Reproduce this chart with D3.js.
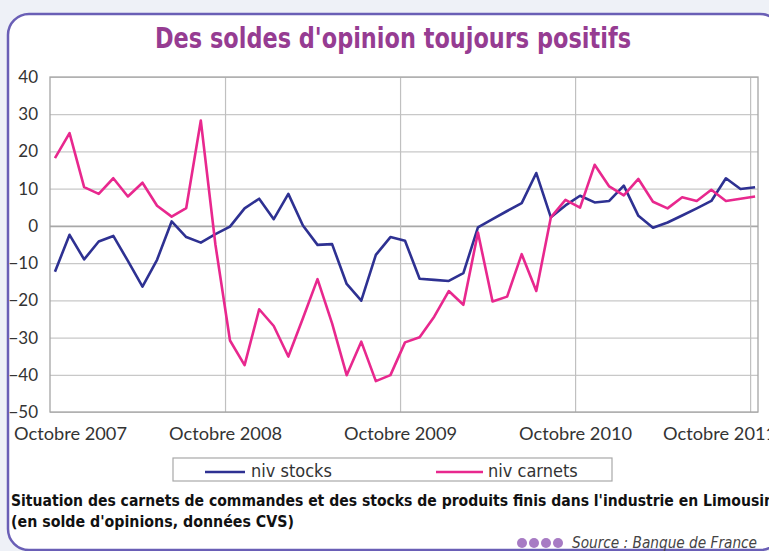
<!DOCTYPE html>
<html lang="fr">
<head>
    <meta charset="UTF-8">
    <title>Des soldes d'opinion toujours positifs</title>
    <script src="https://d3js.org/d3.v7.min.js"></script>
</head>
<body>

<style>
    body{
        margin: 0;
        background: #eef1f7;
    }
    .tick text{
        font-family: Lato, "Open Sans", sans-serif;
        font-size: 17px;
        fill: #333;
    }
</style>

<script>
    // monthly values, Octobre 2007 -> Octobre 2011
    const niv_stocks = [-12.3, -2.4, -9.0, -4.2, -2.7, -9.4, -16.3, -9.1, 1.2, -3.0, -4.5, -2.2, -0.2,
        4.7, 7.3, 1.8, 8.6, 0.1, -5.1, -4.9, -15.6, -20.1, -7.8, -3.0, -4.0, -14.2,
        -14.5, -14.8, -12.7, -0.4, 1.8, 4.0, 6.1, 14.2, 2.3, 5.5, 8.1, 6.3, 6.7,
        10.8, 2.7, -0.5, 0.9, 2.8, 4.7, 6.7, 12.8, 9.9, 10.4];
    const niv_carnets = [18.2, 24.9, 10.4, 8.6, 12.8, 7.9, 11.6, 5.4, 2.5, 4.8, 28.3, -5.0, -30.8,
        -37.4, -22.4, -26.9, -35.1, -24.8, -14.3, -26.2, -40.1, -31.1, -41.7, -40.1, -31.3, -29.9,
        -24.4, -17.5, -21.2, -1.8, -20.3, -19.0, -7.6, -17.5, 2.3, 7.0, 4.9, 16.4, 10.6,
        8.2, 12.6, 6.5, 4.7, 7.7, 6.7, 9.7, 6.7, 7.3, 7.9];
    const year_labels = ["Octobre 2007", "Octobre 2008", "Octobre 2009", "Octobre 2010", "Octobre 2011"];
    const year_index = [0, 12, 24, 36, 48];   // month index of each label
    const y_ticks = [40, 30, 20, 10, 0, -10, -20, -30, -40, -50];
    const series_names = ["niv stocks", "niv carnets"];
    const series_colors = ["#2e3192", "#e8288e"];

    const W = 769, H = 551;
    const cond = '"Liberation Sans Narrow", "DejaVu Sans Condensed", "Arial Narrow", sans-serif';
    const shift = -0.34; // gridlines sit a bit before the points

    let svg = d3.select("body")
        .append("svg")
        .attr("width", W)
        .attr("height", H);

    // frame
    svg.append("rect")
        .attr("width", W).attr("height", H)
        .attr("fill", "#eef1f7");
    svg.append("rect")
        .attr("x", 8).attr("y", 14)
        .attr("width", 773).attr("height", 536)
        .attr("rx", 21)
        .attr("fill", "#fff")
        .attr("stroke", "#6a5fb6")
        .attr("stroke-width", 2.5);

    svg.append("text")
        .attr("x", 393).attr("y", 48)
        .attr("text-anchor", "middle")
        .attr("textLength", 476)
        .attr("lengthAdjust", "spacingAndGlyphs")
        .style("font-family", cond)
        .style("font-weight", "bold")
        .style("font-size", "28px")
        .attr("fill", "#963c92")
        .text("Des soldes d'opinion toujours positifs");

    // scales
    const x = d3.scaleLinear().domain([shift, 48.2]).range([50, 758]);
    const y = d3.scaleLinear().domain([-50, 40]).range([412, 77]);

    // horizontal grid
    svg.append("g")
        .attr("transform", "translate(50,0)")
        .call(d3.axisLeft(y).tickValues(y_ticks).tickSize(-(758 - 50)).tickFormat(""))
        .call(g => g.select(".domain").remove())
        .call(g => g.selectAll("line")
            .attr("stroke", d => d === 0 ? "#a8a8a8" : "#c8c8c8")
            .attr("stroke-width", d => d === 0 ? 1.8 : 1.2));

    // vertical grid
    svg.append("g")
        .attr("transform", "translate(0,77)")
        .call(d3.axisBottom(x).tickValues(year_index.slice(1).map(d => d + shift)).tickSize(412 - 77).tickFormat(""))
        .call(g => g.select(".domain").remove())
        .call(g => g.selectAll("line").attr("stroke", "#c0c0c0").attr("stroke-width", 1.2));

    // plot border
    svg.append("rect")
        .attr("x", 50).attr("y", 77)
        .attr("width", 758 - 50).attr("height", 412 - 77)
        .attr("fill", "none")
        .attr("stroke", "#a5a5a5")
        .attr("stroke-width", 1.3);

    // y labels
    svg.append("g")
        .attr("transform", "translate(50,0)")
        .call(d3.axisLeft(y).tickValues(y_ticks).tickSize(0).tickPadding(12))
        .call(g => g.select(".domain").remove());

    // x labels
    let xa = svg.append("g")
        .attr("transform", "translate(0,412)")
        .call(d3.axisBottom(x).tickValues(year_index.map(d => d + shift)).tickSize(0).tickPadding(16)
            .tickFormat((d, i) => year_labels[i]))
        .call(g => g.select(".domain").remove());
    xa.selectAll("text")
        .attr("textLength", 113)
        .attr("lengthAdjust", "spacingAndGlyphs")
        .attr("dx", (d, i) => i === 0 ? 20 : (i === 4 ? -31 : 0));

    // lines
    const line = d3.line()
        .x((d, i) => x(i))
        .y(d => y(d));

    svg.selectAll(".serie")
        .data([niv_stocks, niv_carnets])
        .enter()
        .append("path")
        .attr("class", "serie")
        .attr("d", line)
        .attr("fill", "none")
        .attr("stroke", (d, i) => series_colors[i])
        .attr("stroke-width", 2.6)
        .attr("stroke-linejoin", "round");

    // legend
    svg.append("rect")
        .attr("x", 173).attr("y", 458)
        .attr("width", 612 - 173).attr("height", 23)
        .attr("fill", "#fff")
        .attr("stroke", "#a8a8a8")
        .attr("stroke-width", 1.2);

    let leg = svg.selectAll(".leg")
        .data(series_names)
        .enter()
        .append("g")
        .attr("class", "leg")
        .attr("transform", (d, i) => "translate(" + (i === 0 ? 205 : 436) + ",0)");
    leg.append("line")
        .attr("x1", 0).attr("x2", (d, i) => i === 0 ? 40 : 47)
        .attr("y1", 472).attr("y2", 472)
        .attr("stroke", (d, i) => series_colors[i])
        .attr("stroke-width", 2.6);
    leg.append("text")
        .attr("x", (d, i) => i === 0 ? 46 : 52)
        .attr("y", 477)
        .style("font-family", cond)
        .style("font-size", "18px")
        .attr("fill", "#333")
        .text(d => d);

    // caption (runs past the right edge, as in the source)
    svg.append("text")
        .attr("x", 11).attr("y", 506)
        .attr("textLength", 763)
        .attr("lengthAdjust", "spacingAndGlyphs")
        .style("font-family", cond)
        .style("font-weight", "bold")
        .style("font-size", "16px")
        .attr("fill", "#111")
        .text("Situation des carnets de commandes et des stocks de produits finis dans l'industrie en Limousin");
    svg.append("text")
        .attr("x", 11).attr("y", 527)
        .attr("textLength", 283)
        .attr("lengthAdjust", "spacingAndGlyphs")
        .style("font-family", cond)
        .style("font-weight", "bold")
        .style("font-size", "16px")
        .attr("fill", "#111")
        .text("(en solde d'opinions, données CVS)");

    // source
    svg.selectAll(".dot")
        .data([0, 1, 2, 3])
        .enter()
        .append("circle")
        .attr("cx", d => 522 + d * 12)
        .attr("cy", 543)
        .attr("r", 5)
        .attr("fill", "#a77bc4");
    svg.append("text")
        .attr("x", 572).attr("y", 548)
        .attr("textLength", 185)
        .attr("lengthAdjust", "spacingAndGlyphs")
        .style("font-family", cond)
        .style("font-style", "italic")
        .style("font-size", "15px")
        .attr("fill", "#444")
        .text("Source : Banque de France");
</script>
</body>
</html>
